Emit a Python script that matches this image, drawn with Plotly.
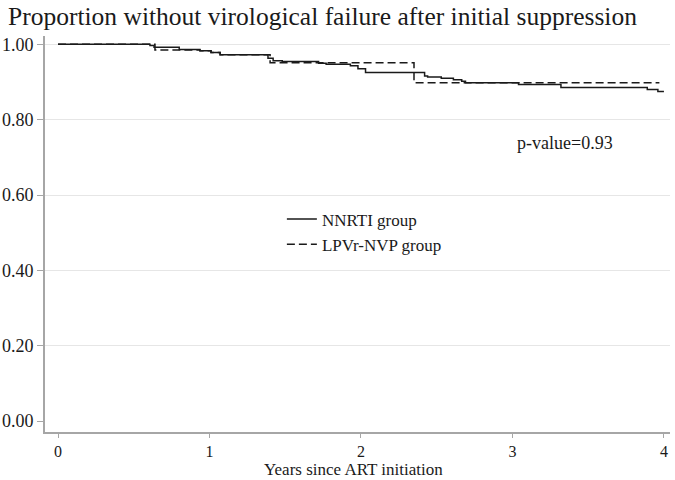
import plotly.graph_objects as go

# NNRTI group (solid) - Kaplan-Meier step estimates
nnrti_t = [0.0, 0.607, 0.634, 0.80, 0.937, 1.01, 1.07, 1.386, 1.42, 1.48, 1.72, 1.77, 1.93, 1.98, 2.03,
           2.42, 2.44, 2.53, 2.61, 2.665, 2.69, 3.04, 3.32, 3.89, 3.96, 4.0]
nnrti_s = [1.000, 0.997, 0.992, 0.986, 0.983, 0.978, 0.972, 0.963, 0.956, 0.954, 0.950, 0.947, 0.943, 0.935, 0.925,
           0.916, 0.913, 0.910, 0.906, 0.902, 0.898, 0.893, 0.885, 0.880, 0.875, 0.875]

# LPVr-NVP group (dashed)
lpv_t = [0.0, 0.64, 0.937, 1.01, 1.07, 1.40, 2.35, 3.97]
lpv_s = [1.000, 0.985, 0.983, 0.978, 0.972, 0.951, 0.898, 0.898]

y_ticks = [0.0, 0.2, 0.4, 0.6, 0.8, 1.0]
x_ticks = [0, 1, 2, 3, 4]

FONT = "Liberation Serif, Times New Roman, serif"
INK = "#1a1a1a"

fig = go.Figure()
fig.add_trace(go.Scatter(x=nnrti_t, y=nnrti_s, mode="lines", name="NNRTI group",
                         line=dict(shape="hv", color=INK, width=1.5)))
fig.add_trace(go.Scatter(x=lpv_t, y=lpv_s, mode="lines", name="LPVr-NVP group",
                         line=dict(shape="hv", color=INK, width=1.5, dash="8px,4px")))

fig.add_annotation(x=3.35, y=0.737, text="p-value=0.93", showarrow=False,
                   font=dict(family=FONT, size=18, color=INK), xanchor="center", yanchor="middle")

# x-axis title as annotation for exact placement
fig.add_annotation(x=0.494, y=-0.094, xref="paper", yref="paper", text="Years since ART initiation",
                   showarrow=False, font=dict(family=FONT, size=17, color=INK),
                   xanchor="center", yanchor="middle", borderpad=0)

fig.update_layout(
    width=675, height=480, autosize=False,
    margin=dict(l=45, r=5, t=36, b=48, autoexpand=False),
    paper_bgcolor="white", plot_bgcolor="white",
    font=dict(family=FONT, size=18, color=INK),
    title=dict(text="Proportion without virological failure after initial suppression",
               x=0.0119, xanchor="left", xref="container", y=1 - 16 / 480, yanchor="middle",
               pad=dict(l=0, r=0, t=0, b=0),
               font=dict(family=FONT, size=25.5, color=INK)),
    showlegend=True,
    legend=dict(x=0.379, y=0.582, xanchor="left", yanchor="top", bgcolor="rgba(0,0,0,0)",
                font=dict(family=FONT, size=17, color=INK), itemwidth=30, tracegroupgap=0),
    xaxis=dict(range=[-0.086, 4.04], tickvals=x_ticks, ticktext=[str(v) for v in x_ticks],
               automargin=False,
               showgrid=False, zeroline=False, showline=True, linecolor="#a6a6a6", linewidth=2,
               ticks="outside", ticklen=4, tickcolor="#a6a6a6", tickwidth=1,
               tickfont=dict(size=16)),
    yaxis=dict(range=[-0.029, 1.022], tickvals=y_ticks, ticktext=[f"{v:.2f}" for v in y_ticks],
               automargin=False,
               showgrid=True, gridcolor="#e6e6e6", gridwidth=1,
               zeroline=True, zerolinecolor="white", zerolinewidth=1,
               showline=True, linecolor="#a6a6a6", linewidth=2,
               ticks="outside", ticklen=6, tickcolor="#a6a6a6", tickwidth=1,
               tickfont=dict(size=18)),
)

fig.write_html("out.html", post_script="document.body.style.margin='0';",
               config={"displayModeBar": False})
